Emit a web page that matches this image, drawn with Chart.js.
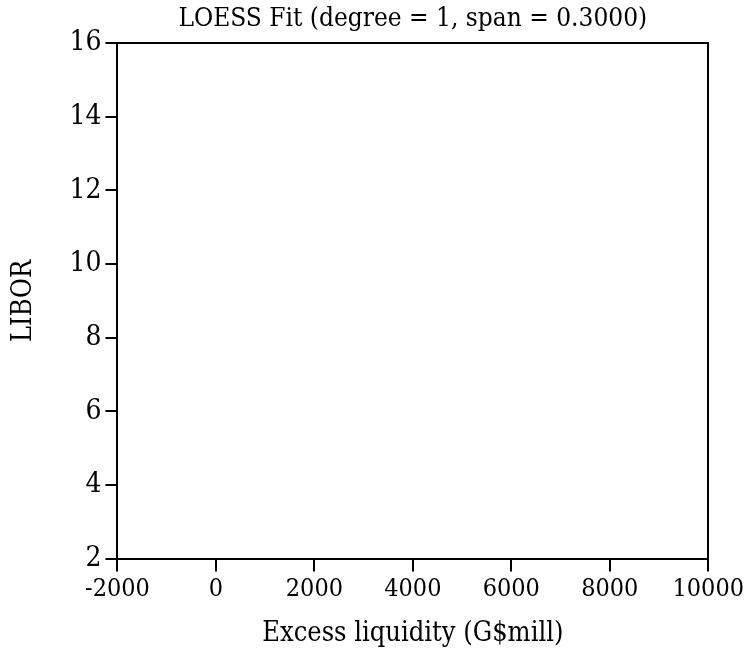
<!DOCTYPE html>
<html>
<head>
<meta charset="utf-8">
<script src="https://cdn.jsdelivr.net/npm/chart.js@4"></script>
<style>
  html, body { margin: 0; padding: 0; background: #fff; }
  #wrap { width: 747px; height: 651px; }
</style>
</head>
<body>
<div id="wrap"><canvas id="myChart" width="747" height="651"></canvas></div>
<script>
// LOESS fit: the reference plot area is empty, no points or curve drawn
const excessLiquidity = [];
const libor = [];

// Axis ticks
const xTicks = [-2000, 0, 2000, 4000, 6000, 8000, 10000];
const yTicks = [2, 4, 6, 8, 10, 12, 14, 16];

const serif = '"DejaVu Serif Condensed", "DejaVu Serif", serif';

const ctx = document.getElementById('myChart').getContext('2d');
const chart = new Chart(ctx, {
    type: 'scatter',
    data: {
        datasets: [{
            label: 'LOESS',
            data: excessLiquidity.map((x, i) => ({ x: x, y: libor[i] })),
            borderColor: '#000',
            showLine: true,
            pointRadius: 0
        }]
    },
    options: {
        responsive: false,
        animation: false,
        layout: { padding: { left: 8, right: 0, top: 4, bottom: 1 } },
        plugins: {
            legend: { display: false },
            tooltip: { enabled: false },
            title: {
                display: true,
                fullSize: false,
                text: 'LOESS Fit (degree = 1, span = 0.3000)',
                color: '#000',
                font: { family: serif, size: 26, weight: 'normal' },
                padding: { top: 0, bottom: 0 }
            }
        },
        scales: {
            x: {
                type: 'linear',
                min: xTicks[0],
                max: xTicks[xTicks.length - 1],
                afterBuildTicks: axis => { axis.ticks = xTicks.map(v => ({ value: v })); },
                grid: { drawOnChartArea: false, drawTicks: true, tickLength: 13, color: '#000', lineWidth: 2 },
                border: { display: true, color: '#000', width: 2 },
                ticks: {
                    color: '#000',
                    font: { family: serif, size: 25 },
                    padding: 3,
                    maxRotation: 0,
                    callback: v => String(v)
                },
                title: {
                    display: true,
                    text: 'Excess liquidity (G$mill)',
                    color: '#000',
                    font: { family: serif, size: 27 },
                    padding: { top: 10, bottom: 0 }
                }
            },
            y: {
                type: 'linear',
                min: yTicks[0],
                max: yTicks[yTicks.length - 1],
                afterBuildTicks: axis => { axis.ticks = yTicks.map(v => ({ value: v })); },
                grid: { drawOnChartArea: false, drawTicks: true, tickLength: 12, color: '#000', lineWidth: 2 },
                border: { display: true, color: '#000', width: 2 },
                ticks: {
                    color: '#000',
                    font: { family: serif, size: 28 },
                    padding: 4,
                    callback: v => String(v)
                },
                title: {
                    display: true,
                    text: 'LIBOR',
                    color: '#000',
                    font: { family: serif, size: 27 },
                    padding: { top: 0, bottom: 25 }
                }
            },
            x2: {
                type: 'linear',
                position: 'top',
                min: xTicks[0],
                max: xTicks[xTicks.length - 1],
                ticks: { display: false },
                grid: { display: false },
                border: { display: true, color: '#000', width: 2 }
            },
            y2: {
                type: 'linear',
                position: 'right',
                min: yTicks[0],
                max: yTicks[yTicks.length - 1],
                ticks: { display: false },
                grid: { display: false },
                border: { display: true, color: '#000', width: 2 }
            }
        }
    }
});
</script>
</body>
</html>
